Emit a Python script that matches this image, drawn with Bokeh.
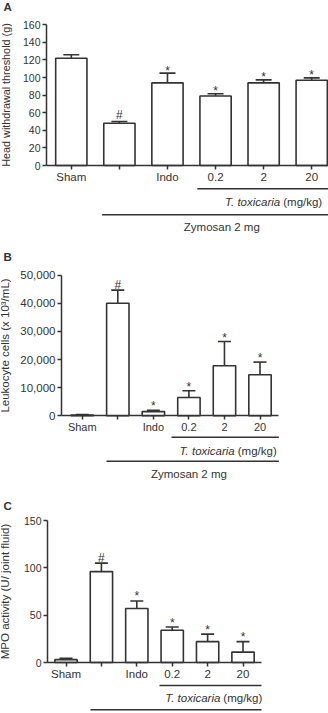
from bokeh.plotting import figure
from bokeh.layouts import column
from bokeh.models import (ColumnDataSource, Range1d, FixedTicker, LinearAxis,
                          NumeralTickFormatter, Whisker, TeeHead)
from bokeh.core.properties import value
from bokeh.embed import file_html
from bokeh.resources import INLINE

# Treatment groups shared by the three panels
groups = ["Sham", "Zymosan", "Indo", "T. toxicaria 0.2", "T. toxicaria 2", "T. toxicaria 20"]
tick_labels = ["Sham", "", "Indo", "0.2", "2", "20"]
marks = ["", "#", "*", "*", "*", "*"]

# A: head withdrawal threshold (g), mean and SEM
withdrawal_mean = [122, 48, 94, 79, 94, 97]
withdrawal_sem = [4, 2, 11, 2.6, 3.4, 2.6]
withdrawal_ticks = [0, 20, 40, 60, 80, 100, 120, 140, 160]

# B: leukocyte cells (x 10^3/mL), mean and SEM
leukocyte_mean = [300, 40000, 1500, 6500, 17800, 14600]
leukocyte_sem = [150, 4700, 500, 2400, 8600, 4500]
leukocyte_ticks = [0, 10000, 20000, 30000, 40000, 50000]

# C: MPO activity (U/ joint fluid), mean and SEM
mpo_mean = [3, 96, 57, 34, 22, 11]
mpo_sem = [1.5, 9, 8, 3.5, 8, 11]
mpo_ticks = [0, 50, 100, 150]

INK = "#333333"
FONT = "Liberation Sans"
WIDTH = 328


def style_axis(ax, label_size):
    ax.axis_line_color = INK
    ax.axis_line_width = 1.5
    ax.major_tick_line_color = INK
    ax.major_tick_line_width = 1.5
    ax.major_tick_in = 0
    ax.major_tick_out = 4
    ax.minor_tick_line_color = None
    ax.major_label_text_font = FONT
    ax.major_label_text_color = INK
    ax.major_label_text_font_size = label_size


def bar_panel(letter, means, sems, ticks, y_label, cfg):
    xs = list(range(len(groups)))
    upper = [m + s for m, s in zip(means, sems)]
    # significance marks sit just above the error caps
    dy = [cfg["hash_off"] if m == "#" else cfg["star_off"] for m in marks]
    src = ColumnDataSource(dict(x=xs, group=groups, mean=means, upper=upper,
                                mark=marks, dy=dy))

    # The frame covers the whole panel; axes are pinned inside it.
    H = cfg["height"]
    step = cfg["step"]
    x_start = cfg["axis_x"] - cfg["axis_px"] / step
    x_end = x_start + WIDTH / step
    k = (cfg["zero_px"] - cfg["top_px"]) / ticks[-1]
    y_start = -(H - cfg["zero_px"]) / k
    y_end = ticks[-1] + cfg["top_px"] / k

    p = figure(width=WIDTH, height=H,
               x_range=Range1d(x_start, x_end), y_range=Range1d(y_start, y_end),
               x_axis_location=None, y_axis_location=None,
               output_backend="svg", toolbar_location=None,
               min_border_left=0, min_border_right=0,
               min_border_top=0, min_border_bottom=0)
    p.extra_x_ranges = {"px": Range1d(0, WIDTH)}
    p.extra_y_ranges = {"px": Range1d(H, 0)}
    p.grid.visible = False
    p.outline_line_color = None

    ya = LinearAxis(fixed_location=cfg["axis_x"], bounds=(0, ticks[-1]),
                    ticker=FixedTicker(ticks=ticks),
                    formatter=NumeralTickFormatter(format="0,0"))
    style_axis(ya, cfg["ytick_size"])
    ya.major_label_standoff = 2
    ya.axis_label = y_label
    ya.axis_label_text_font = FONT
    ya.axis_label_text_font_style = "normal"
    ya.axis_label_text_font_size = cfg["ylabel_size"]
    ya.axis_label_text_color = INK
    ya.axis_label_standoff = cfg["ylabel_standoff"]
    p.add_layout(ya, "left")

    xa = LinearAxis(fixed_location=0, bounds=(cfg["axis_x"], cfg["axis_end"]),
                    ticker=FixedTicker(ticks=xs))
    style_axis(xa, cfg["xtick_size"])
    xa.major_label_overrides = {i: t for i, t in enumerate(tick_labels)}
    xa.major_label_standoff = 1
    p.add_layout(xa, "below")

    p.vbar(x="x", top="mean", bottom=0, width=cfg["bar_width"], source=src,
           fill_color="white", line_color=INK, line_width=1.6)
    p.add_layout(Whisker(source=src, base="x", lower="mean", upper="upper",
                         dimension="height", line_color=INK, line_width=1.6,
                         lower_head=None,
                         upper_head=TeeHead(size=cfg["cap"], line_color=INK, line_width=1.6)))
    p.text(x="x", y="upper", text="mark", source=src, text_align="center",
           text_baseline="alphabetic", y_offset="dy",
           text_font=value(FONT), text_font_size="12px", text_color=INK)

    # panel letter
    p.text(x=[3], y=[cfg["letter_px"]], text=[letter], x_range_name="px", y_range_name="px",
           text_align="left", text_baseline="middle", text_font=value(FONT),
           text_font_size="11.5px", text_font_style="bold", text_color=INK)

    # treatment brackets under the axis
    br = cfg["brackets"]
    end = cfg["axis_end"]
    p.segment(x0=[br["tox_x0"], br["zym_x0"]], y0=[br["tox_y"], br["zym_y"]],
              x1=[end, end], y1=[br["tox_y"], br["zym_y"]], y_range_name="px",
              line_color=INK, line_width=1.5)
    text_kw = dict(y_range_name="px", text_baseline="middle", text_font=value(FONT),
                   text_font_size="11.5px", text_color=INK)
    p.text(x=[br["junction"]], y=[br["tox_label_y"]], text=["T. toxicaria"],
           text_align="right", text_font_style="italic", **text_kw)
    p.text(x=[br["junction"]], y=[br["tox_label_y"]], text=["(mg/kg)"],
           text_align="left", x_offset=3, **text_kw)
    if br["zym_label_y"] is not None:
        p.text(x=[br["zym_x"]], y=[br["zym_label_y"]], text=["Zymosan 2 mg"],
               text_align="center", **text_kw)
    return p


cfg_a = dict(height=240, axis_x=-0.516, axis_end=5.349, axis_px=46, step=48.08,
             zero_px=165, top_px=24.3, letter_px=6.7, star_off=-2.5, hash_off=-7,
             xtick_size="11.5px", ytick_size="10.5px",
             ylabel_size="10.8px", ylabel_standoff=8, bar_width=0.65, cap=16,
             brackets=dict(tox_x0=2.62, zym_x0=0.64, tox_y=188.3, zym_y=214.3,
                           junction=4.345, tox_label_y=201, zym_x=3.13, zym_label_y=226))
cfg_b = dict(height=240, axis_x=-0.584, axis_end=5.53, axis_px=61, step=35.55,
             zero_px=175.3, top_px=34.7, letter_px=16.7, star_off=-4, hash_off=-5,
             xtick_size="11px", ytick_size="11.5px",
             ylabel_size="11.5px", ylabel_standoff=6, bar_width=0.63, cap=13,
             brackets=dict(tox_x0=2.51, zym_x0=0.68, tox_y=196.7, zym_y=220.7,
                           junction=4.29, tox_label_y=210, zym_x=3.0, zym_label_y=233.3))
cfg_c = dict(height=233, axis_x=-0.523, axis_end=5.523, axis_px=47, step=35.4,
             zero_px=182, top_px=40, letter_px=25, star_off=-4.5, hash_off=-5,
             xtick_size="11.5px", ytick_size="10.5px",
             ylabel_size="11.5px", ylabel_standoff=10, bar_width=0.63, cap=13,
             brackets=dict(tox_x0=2.64, zym_x0=0.69, tox_y=205, zym_y=229.3,
                           junction=4.36, tox_label_y=217.7, zym_x=3.0, zym_label_y=None))

panel_a = bar_panel("A", withdrawal_mean, withdrawal_sem, withdrawal_ticks,
                    "Head withdrawal threshold (g)", cfg_a)
panel_b = bar_panel("B", leukocyte_mean, leukocyte_sem, leukocyte_ticks,
                    "Leukocyte cells (x 10³/mL)", cfg_b)
panel_c = bar_panel("C", mpo_mean, mpo_sem, mpo_ticks,
                    "MPO activity (U/ joint fluid)", cfg_c)

layout = column(panel_a, panel_b, panel_c, spacing=0)
open("out.html", "w").write(file_html(layout, INLINE))
